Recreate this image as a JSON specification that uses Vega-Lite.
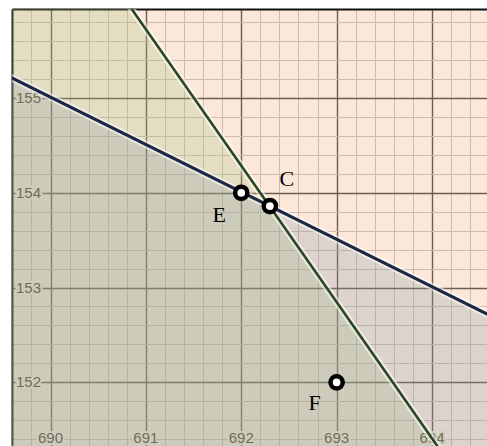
{
  "$schema": "https://vega.github.io/schema/vega-lite/v6.json",
  "width": 475,
  "height": 437,
  "autosize": {"type": "none"},
  "padding": {"left": 12, "top": 9, "right": 0, "bottom": 0},
  "background": "white",
  "config": {"view": {"fill": "#fce8da", "stroke": null}},
  "datasets": {
    "lines": [
      {"line": "blue", "x": 689, "y": 155.509},
      {"line": "blue", "x": 695, "y": 152.509},
      {"line": "green", "x": 689, "y": 158.602},
      {"line": "green", "x": 695, "y": 149.97}
    ],
    "points": [
      {"name": "E", "x": 692, "y": 154},
      {"name": "C", "x": 692.3, "y": 153.86},
      {"name": "F", "x": 693, "y": 152}
    ],
    "xticks": [{"x": 690}, {"x": 691}, {"x": 692}, {"x": 693}, {"x": 694}],
    "yticks": [{"y": 152}, {"y": 153}, {"y": 154}, {"y": 155}]
  },
  "layer": [
    {
      "data": {"name": "lines"},
      "transform": [{"filter": "datum.line === 'green'"}],
      "mark": {"type": "area", "clip": true, "color": "#a8c07e", "opacity": 0.27},
      "encoding": {
        "x": {
          "field": "x", "type": "quantitative",
          "scale": {"domain": [689.596, 694.577], "nice": false, "zero": false},
          "axis": {
            "orient": "top", "title": null, "labels": false, "ticks": false,
            "domain": true, "domainColor": "#111111", "domainWidth": 2,
            "grid": true, "tickCount": 200,
            "values": [689.6, 689.8, 690, 690.2, 690.4, 690.6, 690.8, 691, 691.2, 691.4, 691.6, 691.8, 692, 692.2, 692.4, 692.6, 692.8, 693, 693.2, 693.4, 693.6, 693.8, 694, 694.2, 694.4],
            "gridColor": {"condition": {"test": "abs(datum.value - round(datum.value)) < 0.001", "value": "#6a5d52"}, "value": "#cdbbad"},
            "gridWidth": {"condition": {"test": "abs(datum.value - round(datum.value)) < 0.001", "value": 1.4}, "value": 1},
            "gridOpacity": 1
          }
        },
        "y": {
          "field": "y", "type": "quantitative",
          "scale": {"domain": [151.328, 155.939], "nice": false, "zero": false},
          "axis": {
            "orient": "left", "title": null, "labels": false, "ticks": false,
            "domain": true, "domainColor": "#111111", "domainWidth": 2,
            "grid": true, "tickCount": 200,
            "values": [151.4, 151.6, 151.8, 152, 152.2, 152.4, 152.6, 152.8, 153, 153.2, 153.4, 153.6, 153.8, 154, 154.2, 154.4, 154.6, 154.8, 155, 155.2, 155.4, 155.6, 155.8],
            "gridColor": {"condition": {"test": "abs(datum.value - round(datum.value)) < 0.001", "value": "#6a5d52"}, "value": "#cdbbad"},
            "gridWidth": {"condition": {"test": "abs(datum.value - round(datum.value)) < 0.001", "value": 1.4}, "value": 1},
            "gridOpacity": 1
          }
        },
        "y2": {"datum": 151}
      }
    },
    {
      "data": {"name": "lines"},
      "transform": [{"filter": "datum.line === 'blue'"}],
      "mark": {"type": "area", "clip": true, "color": "#8c9ca6", "opacity": 0.27},
      "encoding": {
        "x": {"field": "x", "type": "quantitative"},
        "y": {"field": "y", "type": "quantitative"},
        "y2": {"datum": 151}
      }
    },
    {
      "data": {"name": "xticks"},
      "mark": {"type": "text", "font": "Liberation Sans", "fontSize": 15, "align": "center", "baseline": "alphabetic", "dy": -3, "color": "#cfcdb8", "stroke": "#cfcdb8", "strokeWidth": 4},
      "encoding": {
        "x": {"field": "x", "type": "quantitative"},
        "y": {"datum": 151.328},
        "text": {"field": "x", "type": "quantitative", "format": "d"}
      }
    },
    {
      "data": {"name": "yticks"},
      "mark": {"type": "text", "font": "Liberation Sans", "fontSize": 15, "align": "left", "baseline": "middle", "dx": 4, "color": "#cfcdb8", "stroke": "#cfcdb8", "strokeWidth": 4},
      "encoding": {
        "x": {"datum": 689.596},
        "y": {"field": "y", "type": "quantitative"},
        "text": {"field": "y", "type": "quantitative", "format": "d"}
      }
    },
    {
      "data": {"name": "xticks"},
      "mark": {"type": "text", "font": "Liberation Sans", "fontSize": 15, "align": "center", "baseline": "alphabetic", "dy": -3, "color": "#6c6c5e"},
      "encoding": {
        "x": {"field": "x", "type": "quantitative"},
        "y": {"datum": 151.328},
        "text": {"field": "x", "type": "quantitative", "format": "d"}
      }
    },
    {
      "data": {"name": "yticks"},
      "mark": {"type": "text", "font": "Liberation Sans", "fontSize": 15, "align": "left", "baseline": "middle", "dx": 4, "color": "#6c6c5e"},
      "encoding": {
        "x": {"datum": 689.596},
        "y": {"field": "y", "type": "quantitative"},
        "text": {"field": "y", "type": "quantitative", "format": "d"}
      }
    },
    {
      "data": {"name": "lines"},
      "mark": {"type": "line", "clip": true, "color": "white", "strokeWidth": 7, "opacity": 0.55},
      "encoding": {
        "x": {"field": "x", "type": "quantitative"},
        "y": {"field": "y", "type": "quantitative"},
        "detail": {"field": "line"}
      }
    },
    {
      "data": {"name": "lines"},
      "transform": [{"filter": "datum.line === 'green'"}],
      "mark": {"type": "line", "clip": true, "color": "#2c4623", "strokeWidth": 2.6},
      "encoding": {
        "x": {"field": "x", "type": "quantitative"},
        "y": {"field": "y", "type": "quantitative"}
      }
    },
    {
      "data": {"name": "lines"},
      "transform": [{"filter": "datum.line === 'blue'"}],
      "mark": {"type": "line", "clip": true, "color": "#1b2744", "strokeWidth": 3},
      "encoding": {
        "x": {"field": "x", "type": "quantitative"},
        "y": {"field": "y", "type": "quantitative"}
      }
    },
    {
      "data": {"name": "points"},
      "mark": {"type": "point", "shape": "circle", "filled": false, "fill": "white", "fillOpacity": 1, "stroke": "black", "strokeWidth": 4.5, "size": 150, "opacity": 1},
      "encoding": {
        "x": {"field": "x", "type": "quantitative"},
        "y": {"field": "y", "type": "quantitative"}
      }
    },
    {
      "data": {"name": "points"},
      "transform": [{"filter": "datum.name === 'E'"}],
      "mark": {"type": "text", "font": "Liberation Serif", "fontSize": 22, "align": "center", "baseline": "middle", "dx": -22, "dy": 22, "color": "black"},
      "encoding": {
        "x": {"field": "x", "type": "quantitative"},
        "y": {"field": "y", "type": "quantitative"},
        "text": {"field": "name"}
      }
    },
    {
      "data": {"name": "points"},
      "transform": [{"filter": "datum.name === 'C'"}],
      "mark": {"type": "text", "font": "Liberation Serif", "fontSize": 22, "align": "center", "baseline": "middle", "dx": 17, "dy": -27, "color": "black"},
      "encoding": {
        "x": {"field": "x", "type": "quantitative"},
        "y": {"field": "y", "type": "quantitative"},
        "text": {"field": "name"}
      }
    },
    {
      "data": {"name": "points"},
      "transform": [{"filter": "datum.name === 'F'"}],
      "mark": {"type": "text", "font": "Liberation Serif", "fontSize": 22, "align": "center", "baseline": "middle", "dx": -22, "dy": 21, "color": "black"},
      "encoding": {
        "x": {"field": "x", "type": "quantitative"},
        "y": {"field": "y", "type": "quantitative"},
        "text": {"field": "name"}
      }
    }
  ]
}
